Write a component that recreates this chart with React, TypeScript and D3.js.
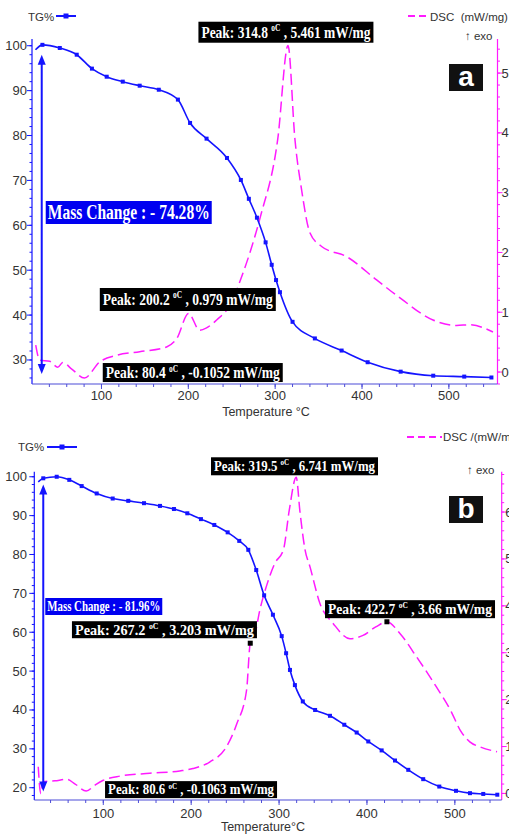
import React from 'react'
import * as d3 from 'd3'

// ---- panel a ----
const tgTempA = [24, 32, 52, 71.5, 89, 106, 124.5, 144, 166, 188, 202, 221, 244.5, 260.5, 269.7, 279, 289, 296, 301, 305.5, 320, 345.7, 376.5, 406.5, 444.5, 482, 517.7, 549]
const tgValA = [99.1, 100.2, 99.5, 98, 94.9, 93.1, 92, 91.1, 90.2, 88, 82.8, 79.3, 75, 70.1, 65.9, 61.7, 56.2, 51.2, 47.8, 45.1, 38.5, 34.8, 32.1, 29.5, 27.4, 26.5, 26.3, 26.1]
const dscTempA = [24.3, 28.9, 40.4, 49.7, 55.4, 65.8, 80.4, 98, 117.6, 144, 175, 186.7, 200.2, 213, 221, 232.6, 251, 260, 271, 283, 303, 314.8, 322.7, 330.4, 340, 353.5, 382.3, 416.8, 443.7, 481.7, 509, 524, 550.8]
const dscValA = [0.45, 0.2, 0.18, 0.08, 0.16, 0.05, -0.1, 0.17, 0.28, 0.34, 0.42, 0.56, 0.98, 0.7, 0.74, 0.87, 1.2, 1.54, 2.0, 2.6, 3.9, 5.46, 3.9, 3.05, 2.33, 2.1, 1.93, 1.54, 1.24, 0.87, 0.78, 0.79, 0.67]
const peakTempA = [314.8, 200.2, 80.4]
const peakValA = ['5.461', '0.979', '-0.1052']
const massChangeA = '74.28'

// ---- panel b ----
const tgTempB = [26, 31.7, 47, 61.3, 75.4, 92.5, 110.7, 128.4, 146.3, 164.5, 180.4, 195.6, 211.1, 226.3, 241.5, 254.7, 265, 274, 283, 293, 303, 308, 312.4, 318, 327, 341, 357.9, 374.2, 388.3, 401.5, 416.7, 431.9, 447, 464, 482.3, 501.3, 517.2, 532.3, 548.3]
const tgValB = [98.7, 99.6, 100, 99.2, 97.6, 95.7, 94.4, 93.8, 93.2, 92.5, 91.7, 90.6, 89.1, 87.6, 85.7, 83.5, 81.2, 76, 69.5, 64.5, 59, 54.6, 50.3, 46.4, 42.2, 40.0, 38.5, 36.2, 34.2, 31.9, 29.6, 27.0, 24.6, 22.2, 20.3, 19.2, 18.6, 18.4, 18.2]
const dscTempB = [26, 28.8, 31.7, 45, 58.4, 68, 80.6, 90, 100, 119, 153, 187, 202, 221, 240, 252, 263, 267.2, 272, 278, 287, 295, 305, 311.6, 319.5, 323.8, 329.5, 335.2, 346.5, 361.7, 380.7, 395.5, 410, 422.7, 437.5, 456.5, 479, 496, 506, 517, 529, 548]
const dscValB = [0.57, 0.0, 0.25, 0.27, 0.3, 0.2, 0.05, 0.17, 0.28, 0.37, 0.43, 0.48, 0.53, 0.67, 0.99, 1.49, 2.2, 3.2, 3.35, 3.9, 4.5, 4.9, 5.2, 6.04, 6.74, 6.0, 5.2, 4.83, 4.05, 3.62, 3.3, 3.37, 3.55, 3.66, 3.41, 2.91, 2.27, 1.74, 1.35, 1.1, 0.99, 0.89]
const peakTempB = [319.5, 267.2, 422.7, 80.6]
const peakValB = ['6.741', '3.203', '3.66', '-0.1063']
const massChangeB = '81.96'

const xTicks = [100, 200, 300, 400, 500]

const BLUE = '#1414ff'
const PINK = '#ff1aff'
const SANS = 'Liberation Sans, Arial, sans-serif'
const SERIF = 'Liberation Serif, Times New Roman, serif'

// box offsets are relative to the peak point (pixels)
const boxesA = [
  { dx: -89.6, dy: -23.8, w: 175, h: 21, fs: 17, mark: false },
  { dx: -88.7, dy: -25.5, w: 176, h: 23, fs: 17.5, mark: false },
  { dx: 18.3, dy: -15.3, w: 180, h: 19, fs: 17, mark: false },
]
const boxesB = [
  { dx: -85.2, dy: -20, w: 167, h: 18, fs: 15, mark: false },
  { dx: -178.3, dy: -22, w: 185, h: 17, fs: 15, mark: true },
  { dx: -61.9, dy: -21.6, w: 170, h: 18, fs: 15, mark: true },
  { dx: 18.8, dy: -17.3, w: 172, h: 17, fs: 15, mark: false },
]

const layoutA = {
  left: 32, right: 497.5, top: 39, bottom: 384,
  xDom: [20, 556], tgDom: [24.65, 101.5], dscDom: [-0.2, 5.57],
  tgTicks: d3.range(30, 101, 10), tgMinor: d3.range(26, 101, 2),
  dscTicks: d3.range(0, 6), dscMinor: d3.range(-0.2, 5.5, 0.2),
  leftLabelX: 27, rightLabelDx: 4, xLabelDy: 16, titleY: 416, titleX: 266, title: 'Temperature °C',
  legendTG: { tx: 28, ty: 21, x1: 56, x2: 76, y: 16 },
  legendDSC: { x1: 408, x2: 428, y: 16, tx: 430, ty: 21, text: 'DSC  (mW/mg)', ex: 465, ey: 40 },
  letter: { x: 449, y: 64, w: 34, h: 27, t: 'a' },
  arrowT: 31.2,
  mass: { dx: 4, y: 201, w: 166, h: 23, fs: 20 },
}
const layoutB = {
  left: 34.3, right: 501.7, top: 471.7, bottom: 800,
  xDom: [21.5, 553.3], tgDom: [16.84, 101.3], dscDom: [-0.14, 6.86],
  tgTicks: d3.range(20, 101, 10), tgMinor: d3.range(18, 101, 2),
  dscTicks: d3.range(0, 7), dscMinor: d3.range(0, 6.9, 0.2),
  leftLabelX: 27, rightLabelDx: 3.5, xLabelDy: 18, titleY: 831, titleX: 263, title: 'Temperature°C',
  legendTG: { tx: 18, ty: 451, x1: 47, x2: 77, y: 447 },
  legendDSC: { x1: 407, x2: 442, y: 437, tx: 443, ty: 441, text: 'DSC /(mW/mg)', ex: 467, ey: 474 },
  letter: { x: 449, y: 496, w: 34, h: 27, t: 'b' },
  arrowT: 31.7,
  mass: { dx: 2, y: 598, w: 117, h: 17, fs: 15 },
}

const PeakLabel = ({ x, y, w, h, fs, t, v }) => (
  <g>
    <rect x={x} y={y} width={w} height={h} fill="#000" />
    <text x={x + 3} y={y + h / 2 + fs * 0.32} fill="#fff" fontFamily={SERIF} fontWeight="bold" fontSize={fs}
      textLength={w - 6} lengthAdjust="spacingAndGlyphs">
      {`Peak: ${t} `}
      <tspan fontSize={fs * 0.55} dy={-fs * 0.38}>oC</tspan>
      <tspan dy={fs * 0.38}>{` , ${v} mW/mg`}</tspan>
    </text>
  </g>
)

const Panel = ({ L, tgT, tgV, dscT, dscV, pT, pV, boxes, mass }) => {
  const x = d3.scaleLinear().domain(L.xDom).range([L.left, L.right])
  const yT = d3.scaleLinear().domain(L.tgDom).range([L.bottom, L.top])
  const yD = d3.scaleLinear().domain(L.dscDom).range([L.bottom, L.top])
  const tgLine = d3.line<number>().x((d, i) => x(tgT[i])).y(d => yT(d)).curve(d3.curveMonotoneX)
  const dscLine = d3.line<number>().x((d, i) => x(dscT[i])).y(d => yD(d)).curve(d3.curveMonotoneX)
  const minorX = d3.range(40, L.xDom[1], 20)
  const ax = x(L.arrowT)
  const aTop = yT(98)
  const aBot = yT(d3.min(tgV) + 0.8)
  return (
    <g>
      {/* left TG axis */}
      <line x1={L.left} x2={L.left} y1={L.top} y2={L.bottom} stroke={BLUE} strokeWidth={1.2} />
      {L.tgMinor.map(v => (
        <line key={'m' + v} x1={L.left - 2.5} x2={L.left} y1={yT(v)} y2={yT(v)} stroke={BLUE} strokeWidth={1} />
      ))}
      {L.tgTicks.map(v => (
        <g key={v}>
          <line x1={L.left - 5} x2={L.left} y1={yT(v)} y2={yT(v)} stroke={BLUE} />
          <text x={L.leftLabelX} y={yT(v) + 4.5} textAnchor="end" fontFamily={SANS} fontSize={13} fill="#333">{v}</text>
        </g>
      ))}
      {/* right DSC axis */}
      <line x1={L.right} x2={L.right} y1={L.top} y2={L.bottom} stroke={PINK} strokeWidth={1.2} />
      {L.dscMinor.map(v => (
        <line key={'d' + v} x1={L.right} x2={L.right + 2.5} y1={yD(v)} y2={yD(v)} stroke={PINK} />
      ))}
      {L.dscTicks.map(v => (
        <g key={'D' + v}>
          <line x1={L.right} x2={L.right + 5} y1={yD(v)} y2={yD(v)} stroke={PINK} />
          <text x={L.right + L.rightLabelDx} y={yD(v) + 4.5} fontFamily={SANS} fontSize={13} fill="#333">{v}</text>
        </g>
      ))}
      {/* bottom axis */}
      <line x1={L.left} x2={L.right} y1={L.bottom} y2={L.bottom} stroke="#4d4dd8" strokeWidth={1.2} />
      {minorX.map(v => (
        <line key={'x' + v} x1={x(v)} x2={x(v)} y1={L.bottom} y2={L.bottom + 3} stroke="#4d4dd8" />
      ))}
      {xTicks.map(v => (
        <g key={'X' + v}>
          <line x1={x(v)} x2={x(v)} y1={L.bottom} y2={L.bottom + 5} stroke="#4d4dd8" />
          <text x={x(v)} y={L.bottom + L.xLabelDy} textAnchor="middle" fontFamily={SANS} fontSize={13} fill="#333">{v}</text>
        </g>
      ))}
      <text x={L.titleX} y={L.titleY} textAnchor="middle" fontFamily={SANS} fontSize={12.5} fill="#333">{L.title}</text>

      {/* curves */}
      <path d={dscLine(dscV)} fill="none" stroke={PINK} strokeWidth={1.5} strokeDasharray="11,5" />
      <path d={tgLine(tgV)} fill="none" stroke={BLUE} strokeWidth={1.6} />
      {tgV.slice(1).map((v, i) => (
        <rect key={'p' + i} x={x(tgT[i + 1]) - 2} y={yT(v) - 2} width={4} height={4} fill={BLUE} />
      ))}

      {/* mass change arrow */}
      <line x1={ax} x2={ax} y1={aTop + 8} y2={aBot - 8} stroke={BLUE} strokeWidth={2} />
      <path d={`M${ax},${aTop} L${ax - 4},${aTop + 10} L${ax + 4},${aTop + 10} Z`} fill={BLUE} />
      <path d={`M${ax},${aBot} L${ax - 4},${aBot - 10} L${ax + 4},${aBot - 10} Z`} fill={BLUE} />
      <rect x={ax + L.mass.dx} y={L.mass.y} width={L.mass.w} height={L.mass.h} fill="#0000f0" />
      <text x={ax + L.mass.dx + 2} y={L.mass.y + L.mass.h / 2 + L.mass.fs * 0.32} fill="#fff" fontFamily={SERIF}
        fontWeight="bold" fontSize={L.mass.fs} textLength={L.mass.w - 4} lengthAdjust="spacingAndGlyphs">
        {`Mass Change : - ${mass}%`}
      </text>

      {/* peak labels */}
      {pT.map((t, i) => {
        const b = boxes[i]
        const px = x(t)
        const py = yD(+pV[i])
        return (
          <g key={'k' + i}>
            {b.mark && <rect x={px - 2.5} y={py - 2.5} width={5} height={5} fill="#000" />}
            <PeakLabel x={px + b.dx} y={py + b.dy} w={b.w} h={b.h} fs={b.fs} t={t} v={pV[i]} />
          </g>
        )
      })}

      {/* letter */}
      <rect x={L.letter.x} y={L.letter.y} width={L.letter.w} height={L.letter.h} fill="#111" />
      <text x={L.letter.x + L.letter.w / 2} y={L.letter.y + L.letter.h - 5} textAnchor="middle" fill="#fff"
        fontFamily={SANS} fontWeight="bold" fontSize={28}>{L.letter.t}</text>

      {/* legends */}
      <text x={L.legendTG.tx} y={L.legendTG.ty} fontFamily={SANS} fontSize={11.5} fill="#333">TG%</text>
      <line x1={L.legendTG.x1} x2={L.legendTG.x2} y1={L.legendTG.y} y2={L.legendTG.y} stroke={BLUE} strokeWidth={2} />
      <rect x={(L.legendTG.x1 + L.legendTG.x2) / 2 - 2.5} y={L.legendTG.y - 2.5} width={5} height={5} fill={BLUE} />
      <line x1={L.legendDSC.x1} x2={L.legendDSC.x2} y1={L.legendDSC.y} y2={L.legendDSC.y} stroke={PINK} strokeWidth={2} strokeDasharray="7,4" />
      <text x={L.legendDSC.tx} y={L.legendDSC.ty} fontFamily={SANS} fontSize={11.5} fill="#333" style={{ whiteSpace: 'pre' }}>{L.legendDSC.text}</text>
      <text x={L.legendDSC.ex} y={L.legendDSC.ey} fontFamily={SANS} fontSize={11.5} fill="#333">↑ exo</text>
    </g>
  )
}

export default function App() {
  return (
    <svg width={509} height={834} style={{ position: 'absolute', left: 0, top: 0, background: '#fff' }}>
      <rect width={509} height={834} fill="#fff" />
      <Panel L={layoutA} tgT={tgTempA} tgV={tgValA} dscT={dscTempA} dscV={dscValA}
        pT={peakTempA} pV={peakValA} boxes={boxesA} mass={massChangeA} />
      <Panel L={layoutB} tgT={tgTempB} tgV={tgValB} dscT={dscTempB} dscV={dscValB}
        pT={peakTempB} pV={peakValB} boxes={boxesB} mass={massChangeB} />
    </svg>
  )
}
